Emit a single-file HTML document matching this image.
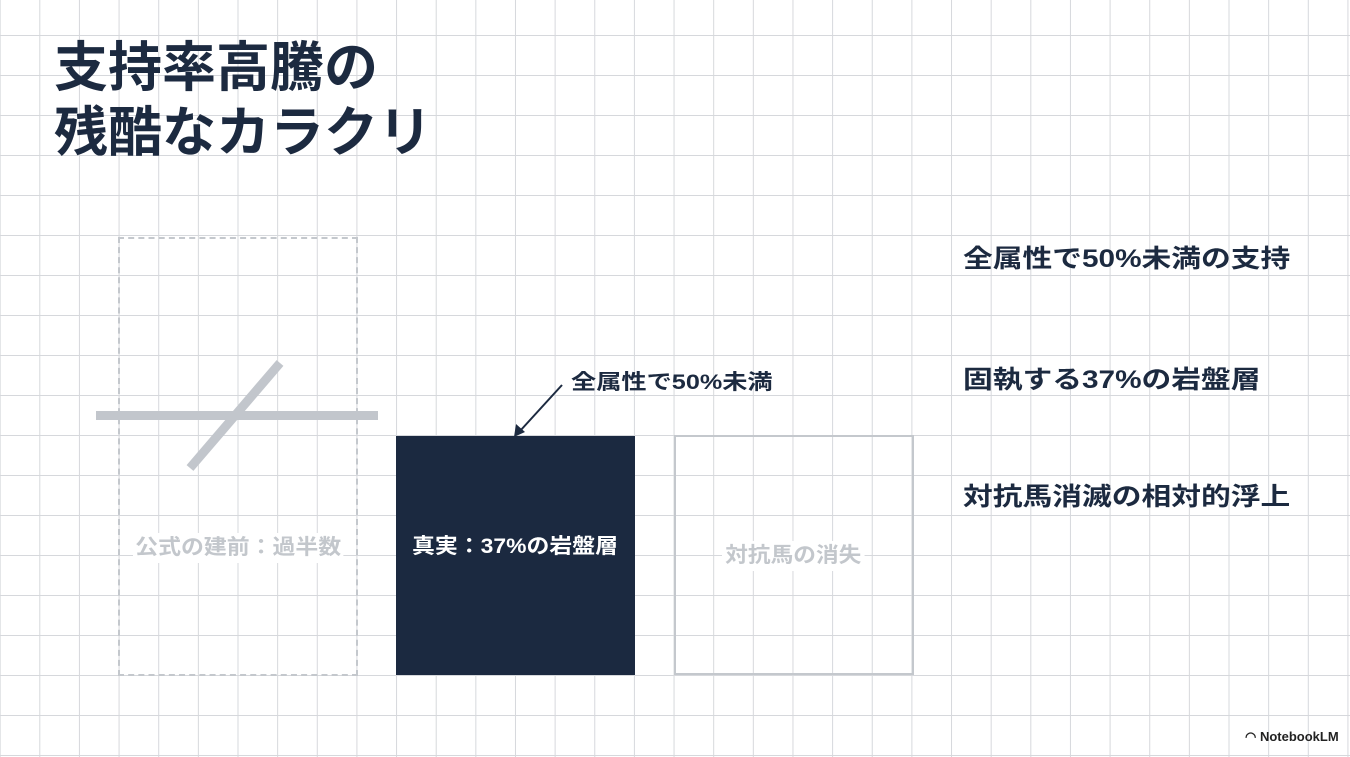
<!DOCTYPE html>
<html><head><meta charset="utf-8"><style>
html,body{margin:0;padding:0}
body{width:1350px;height:757px;position:relative;overflow:hidden;background:#fff;
font-family:"Liberation Sans","Noto Sans CJK JP",sans-serif;
background-image:linear-gradient(to right,#d6d8dc 1.2px,transparent 1.2px),linear-gradient(to bottom,#d6d8dc 1.2px,transparent 1.2px);
background-size:39.65px 40px;background-position:39.3px 35px;}
.t{position:absolute;white-space:nowrap;font-weight:bold;transform-origin:left center}
</style></head><body>
<div class="t" style="left:54px;top:36px;font-size:54px;line-height:65px;color:#1c2a40;">支持率高騰の<br>残酷なカラクリ</div>

<div style="position:absolute;left:118px;top:237px;width:236px;height:435px;border:2px dashed #c4c8cd;"></div>
<svg style="position:absolute;left:0;top:0" width="1350" height="757">
<line x1="96" y1="415.5" x2="378" y2="415.5" stroke="#c2c6cc" stroke-width="9"/>
<line x1="280" y1="363" x2="190" y2="468" stroke="#c2c6cc" stroke-width="9"/>
<line x1="562" y1="385" x2="520" y2="431" stroke="#1c2a40" stroke-width="2"/>
<polygon points="514,437 516,424 525,432" fill="#1c2a40"/>
</svg>
<div class="t" style="left:133px;top:533px;font-size:21px;line-height:30px;color:#c3c7cc;background:#fff;padding:0 2px;font-weight:600;transform:scaleX(1.09);">公式の建前：過半数</div>

<div style="position:absolute;left:396px;top:436px;width:239px;height:239px;background:#1b2940;"></div>
<div class="t" style="left:412px;top:532px;font-size:21px;line-height:30px;color:#fff;transform:scaleX(1.09);">真実：37%の岩盤層</div>

<div style="position:absolute;left:674px;top:435px;width:236px;height:236px;border:2.5px solid #c4c8cd;"></div>
<div class="t" style="left:722px;top:541px;font-size:21px;line-height:30px;color:#c3c7cc;background:#fff;padding:0 3px;font-weight:600;transform:scaleX(1.08);">対抗馬の消失</div>

<div class="t" style="left:571px;top:368px;font-size:21px;line-height:30px;color:#1c2a40;transform:scaleX(1.2);">全属性で50%未満</div>

<div class="t" style="left:963px;top:242px;font-size:25px;line-height:34px;color:#1c2a40;transform:scaleX(1.19);">全属性で50%未満の支持</div>
<div class="t" style="left:963px;top:363px;font-size:25px;line-height:34px;color:#1c2a40;transform:scaleX(1.19);">固執する37%の岩盤層</div>
<div class="t" style="left:963px;top:480px;font-size:25px;line-height:34px;color:#1c2a40;transform:scaleX(1.19);">対抗馬消滅の相対的浮上</div>

<div class="t" style="left:1245px;top:728px;font-size:13px;line-height:18px;color:#222;font-weight:bold;">◠ NotebookLM</div>
</body></html>
